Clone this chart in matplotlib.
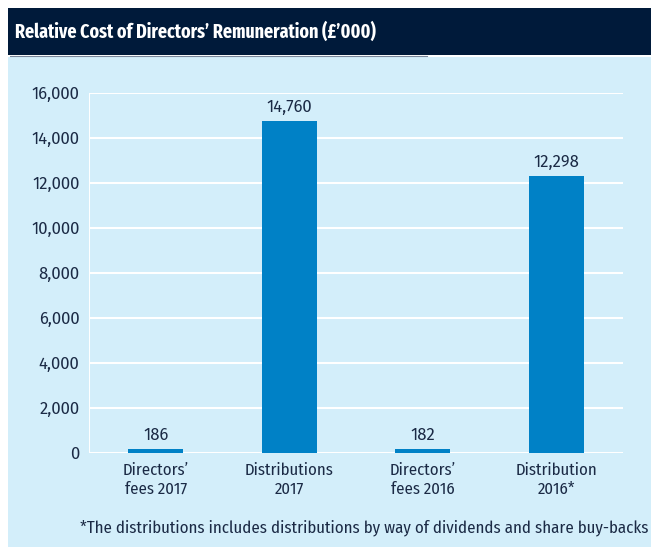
import matplotlib.pyplot as plt
from matplotlib.patches import Rectangle

categories = ["Directors\u2019\nfees 2017", "Distributions\n2017",
              "Directors\u2019\nfees 2016", "Distribution\n2016*"]
values = [186, 14760, 182, 12298]
value_labels = ["186", "14,760", "182", "12,298"]
yticks = [0, 2000, 4000, 6000, 8000, 10000, 12000, 14000, 16000]
ytick_labels = ["0", "2,000", "4,000", "6,000", "8,000", "10,000",
                "12,000", "14,000", "16,000"]

W, H = 651, 547
BG = '#D3EEFA'
NAVY = '#001A3A'
BAR = '#0081C6'
TXT = '#1B2A45'
NUM_FONT = ['Fira Sans', 'DejaVu Sans']

plt.rcParams['font.family'] = ['Fira Sans Condensed', 'Fira Sans', 'DejaVu Sans']

fig = plt.figure(figsize=(W / 100, H / 100), dpi=100)
fig.patch.set_facecolor('white')

# background panel and title banner
fig.patches.append(Rectangle((8 / W, 0), 1, 490 / H, transform=fig.transFigure,
                             facecolor=BG, edgecolor='none', zorder=-5))
fig.patches.append(Rectangle((8 / W, 1 - 55 / H), 1, 47 / H, transform=fig.transFigure,
                             facecolor=NAVY, edgecolor='none', zorder=-5))
fig.lines.append(plt.Line2D([10 / W, 427 / W], [1 - 55.5 / H, 1 - 55.5 / H],
                            transform=fig.transFigure, color='#7a8699', lw=0.8))
fig.text(15 / W, 1 - 32 / H, "Relative Cost of Directors\u2019 Remuneration (\u00a3\u2019000)",
         color='white', fontsize=14, fontweight='bold', va='center', ha='left',
         family=['Fira Sans Extra Condensed', 'Fira Sans Condensed', 'DejaVu Sans'])

ax = fig.add_axes([89 / W, 1 - 453 / H, 534 / W, 360 / H])
ax.set_zorder(2)
ax.set_facecolor('none')
ax.set_xlim(-0.5, 3.5)
ax.set_ylim(0, 16000)
for y in yticks:
    ax.axhline(y, color='white', lw=1.5, zorder=1)
ax.axvline(-0.5, color='white', lw=1.5, zorder=1)

x = range(len(values))
ax.bar(x, values, width=0.41, color=BAR, zorder=2)
for i, v in enumerate(values):
    ax.text(i, v + 250, value_labels[i], ha='center', va='bottom',
            fontsize=12, color=TXT, family=NUM_FONT)

for s in ax.spines.values():
    s.set_visible(False)
ax.set_yticks(yticks)
ax.set_yticklabels(ytick_labels, fontsize=12, color=TXT, family=NUM_FONT)
ax.set_xticks(list(x))
ax.set_xticklabels(categories, fontsize=12, color=TXT, linespacing=1.2)
ax.tick_params(axis='y', length=0, pad=7)
ax.tick_params(axis='x', length=0, pad=7)

fig.text(648 / W, 1 - 528 / H,
         "*The distributions includes distributions by way of dividends and share buy-backs",
         ha='right', va='center', fontsize=12.1, color=TXT)

fig.savefig('out.png', dpi=100)
